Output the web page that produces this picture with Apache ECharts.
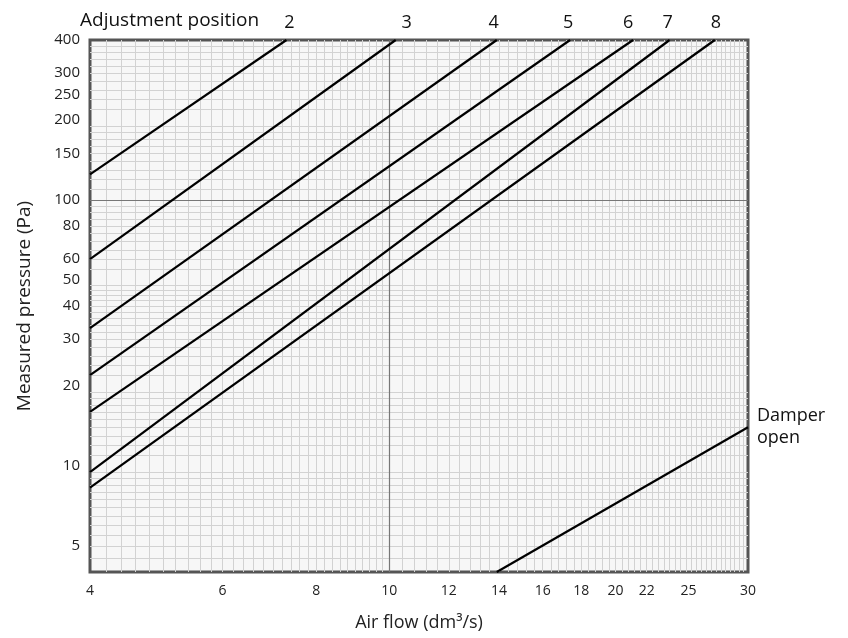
<!DOCTYPE html><html><head><meta charset="utf-8"><script src="https://cdn.jsdelivr.net/npm/echarts@6/dist/echarts.min.js"></script>
<style>body{margin:0}#c{width:848px;height:638px}</style></head><body><div id="c"></div><script>
const lineNames=['2','3','4','5','6','7','8','Damper\nopen'];
const lineStarts=[[4,125],[4,60],[4,33],[4,22],[4,16],[4,9.5],[4,8.3],[13.9,4]];
const lineEnds=[[7.3,400],[10.2,400],[13.9,400],[17.4,400],[21.1,400],[23.6,400],[27.1,400],[30,14]];
const xTickLabels=[4,6,8,10,12,14,16,18,20,22,25,30];
const yTickLabels=[5,10,20,30,40,50,60,80,100,150,200,250,300,400];
const xGridSteps=[[4,10,0.2],[10,30,0.4]];
const yGridSteps=[[4,10,0.5],[10,20,1],[20,50,2],[50,100,5],[100,200,10],[200,400,20]];
function gridVals(steps){const v=[];steps.forEach(([a,b,s])=>{for(let t=a+s;t<b-1e-9;t+=s)v.push(+t.toFixed(3));});return v;}
const labelDx=[3,11,-3,-2,-5,-2,1];
const series=lineNames.map((n,i)=>({type:'line',data:[lineStarts[i],lineEnds[i]],symbol:'none',lineStyle:{color:'#000',width:2.2},clip:false,
 endLabel:{show:true,formatter:n,fontSize:18,color:'#111',lineHeight:22,fontFamily:'Open Sans',
   align:i===7?'left':'center',verticalAlign:'middle',offset:i===7?[4,0]:[labelDx[i],-17],distance:i===7?5:0},z:5}));
series.push({type:'line',data:[],silent:true,markLine:{symbol:'none',silent:true,label:{show:false},animation:false,
 lineStyle:{color:'#d2d2d2',width:1,type:'solid'},
 data:gridVals(xGridSteps).map(v=>({xAxis:v})).concat(gridVals(yGridSteps).map(v=>({yAxis:v})))}});
series.push({type:'line',data:[],silent:true,markLine:{symbol:'none',silent:true,label:{show:false},animation:false,
 lineStyle:{color:'#777',width:1.2,type:'solid'},data:[{xAxis:10},{yAxis:100}]}});
const ch=echarts.init(document.getElementById('c'));
ch.setOption({animation:false,textStyle:{fontFamily:'Open Sans'},
 grid:{left:90,right:100,top:40,bottom:66,show:true,borderColor:'#555',borderWidth:3,backgroundColor:'#f7f7f7'},
 xAxis:{type:'log',min:4,max:30,name:'Air flow (dm³/s)',nameLocation:'middle',nameGap:42,nameTextStyle:{fontSize:18,color:'#222'},
  axisLine:{show:false},axisTick:{show:false},splitLine:{show:false},
  axisLabel:{customValues:xTickLabels,fontSize:14,color:'#222',margin:12}},
 yAxis:{type:'log',min:4,max:400,name:'Measured pressure (Pa)',nameLocation:'middle',nameGap:56,nameTextStyle:{fontSize:19,color:'#222'},
  axisLine:{show:false},axisTick:{show:false},splitLine:{show:false},
  axisLabel:{customValues:yTickLabels,fontSize:15,color:'#222',margin:10}},
 graphic:[{type:'text',left:80,top:11,style:{text:'Adjustment position',fontSize:19,fill:'#111',fontFamily:'Open Sans'}}],
 series});
</script></body></html>
